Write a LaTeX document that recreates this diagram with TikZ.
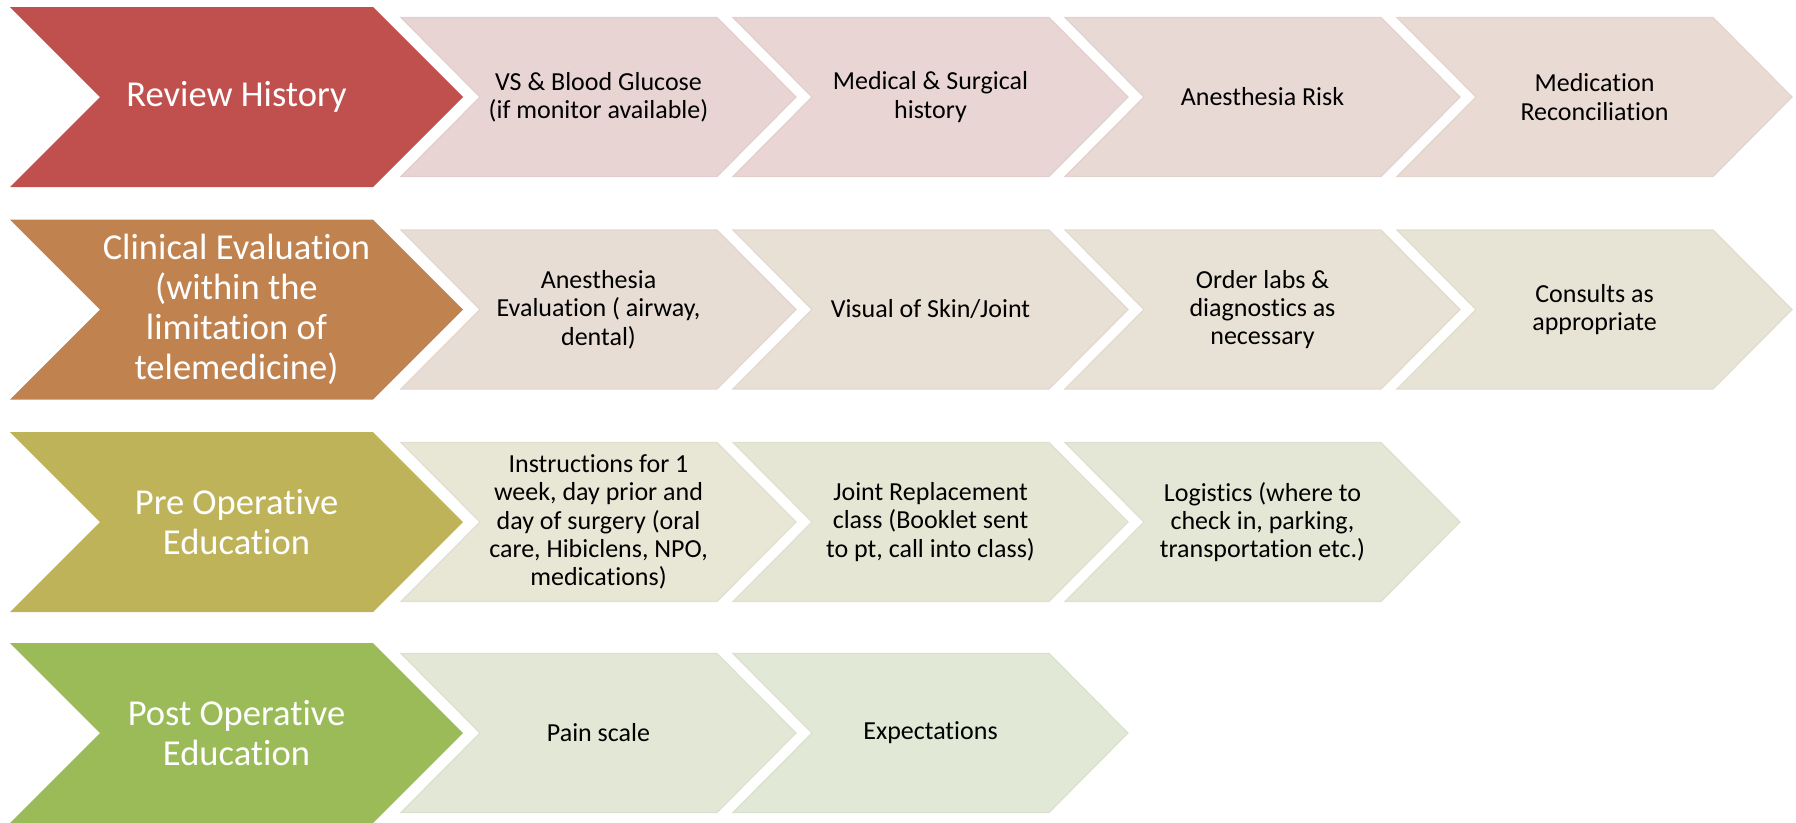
\documentclass[tikz,border=0pt]{standalone}
\usepackage{fontspec}
\setmainfont{Carlito}[Ligatures={NoCommon,NoRare,NoContextual},RawFeature={-calt}]

\definecolor{revred}{HTML}{C0504D}
\definecolor{clinbrown}{HTML}{C08350}
\definecolor{preolive}{HTML}{BFB35A}
\definecolor{postgreen}{HTML}{9BBB59}
\definecolor{subpink}{HTML}{E9D4D4}
\definecolor{subbeige}{HTML}{E8E6D5}
\definecolor{subgreen}{HTML}{E1E8D5}

\tikzset{
  mainlbl/.style={text=white,align=center,font=\fontsize{20.8}{22.8}\selectfont},
  sublbl/.style={text=black,align=center,font=\fontsize{14.8}{16.1}\selectfont},
}

\begin{document}
\begin{tikzpicture}[x=0.02cm,y=-0.02cm]

\useasboundingbox (0,0) rectangle (1796,822);

% big chevrons, one per row
\foreach \c/\col in {97/revred,309.5/clinbrown,522/preolive,733/postgreen} {
  \fill[\col] (10,\c-90) -- (373,\c-90) -- (463,\c) -- (373,\c+90) -- (10,\c+90) -- (100,\c) -- cycle;
}

% small chevrons
\foreach \l/\c/\col in {401/97/subpink,733/97/subpink!88!subbeige,1065/97/subpink!75!subbeige,1397/97/subpink!62!subbeige,
                        401/309.5/subpink!50!subbeige,733/309.5/subpink!38!subbeige,1065/309.5/subpink!25!subbeige,1397/309.5/subpink!12!subbeige,
                        401/522/subbeige,733/522/subbeige!75!subgreen,1065/522/subbeige!50!subgreen,
                        401/733/subbeige!25!subgreen,733/733/subgreen} {
  \filldraw[fill=\col,draw=\col!97!black,line width=0.7pt]
    (\l,\c-79.5) -- (\l+316,\c-79.5) -- (\l+395,\c) -- (\l+316,\c+79.5) -- (\l,\c+79.5) -- (\l+79,\c) -- cycle;
}

\node[mainlbl] (review) at (236.5,97)    {Review History};
\node[mainlbl] (clinic) at (236.5,309.5) {Clinical Evaluation\\(within the\\limitation of\\telemedicine)};
\node[mainlbl] (preop)  at (236.5,522)   {Pre Operative\\Education};
\node[mainlbl] (postop) at (236.5,733)   {Post Operative\\Education};

\node[sublbl] (vs)      at ( 598.5,97) {VS \& Blood Glucose\\(if monitor available)};
\node[sublbl] (medhist) at ( 930.5,97) {Medical \& Surgical\\history};
\node[sublbl] (anrisk)  at (1262.5,97) {Anesthesia Risk};
\node[sublbl] (medrec)  at (1594.5,97) {Medication\\Reconciliation};

\node[sublbl] (aneval)  at ( 598.5,309.5) {Anesthesia\\Evaluation ( airway,\\dental)};
\node[sublbl] (visual)  at ( 930.5,309.5) {Visual of Skin/Joint};
\node[sublbl] (labs)    at (1262.5,309.5) {Order labs \&\\diagnostics as\\necessary};
\node[sublbl] (consult) at (1594.5,309.5) {Consults as\\appropriate};

\node[sublbl] (instr)   at ( 598.5,522) {Instructions for 1\\week, day prior and\\day of surgery (oral\\care, Hibiclens, NPO,\\medications)};
\node[sublbl] (joint)   at ( 930.5,522) {Joint Replacement\\class (Booklet sent\\to pt, call into class)};
\node[sublbl] (logist)  at (1262.5,522) {Logistics (where to\\check in, parking,\\transportation etc.)};

\node[sublbl] (pain)    at ( 598.5,733) {Pain scale};
\node[sublbl] (expect)  at ( 930.5,733) {Expectations};

\end{tikzpicture}
\end{document}
